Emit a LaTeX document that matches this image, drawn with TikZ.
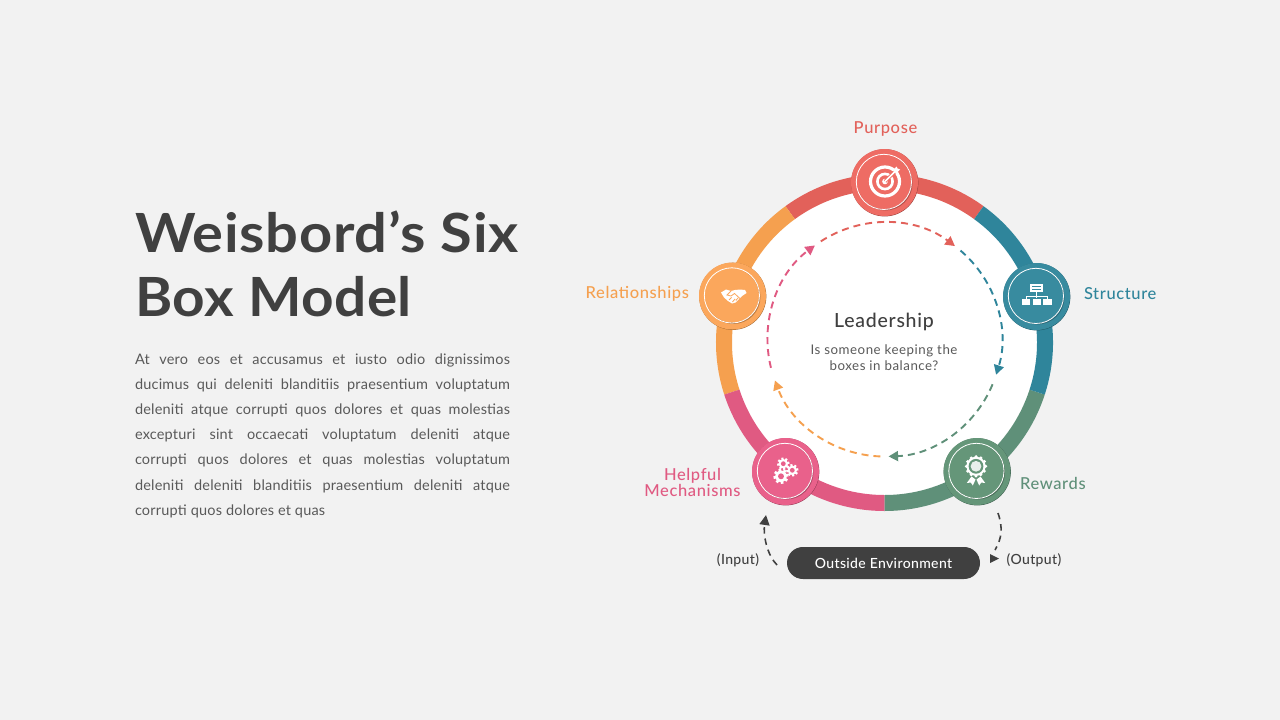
\documentclass[tikz,border=0pt]{standalone}
\usepackage{fontspec}
\setmainfont{Lato}
\newfontfamily\titlefonta[LetterSpace=1.3,FakeStretch=1.07]{Lato}
\newfontfamily\titlefontb[LetterSpace=0.9,FakeStretch=1.05]{Lato}
\newfontfamily\labelfont[LetterSpace=3.8]{Lato Medium}
\newfontfamily\pillfont[LetterSpace=2.6]{Lato Medium}
\newfontfamily\smallfont[LetterSpace=4]{Lato}
\newfontfamily\parafont[LetterSpace=1.4]{Lato}
\usetikzlibrary{arrows.meta}
\definecolor{bgc}{HTML}{F2F2F2}
\definecolor{darktxt}{HTML}{404040}
\definecolor{bodytxt}{HTML}{595959}
\definecolor{redc}{HTML}{E2615A}
\definecolor{redb}{HTML}{EE6C64}
\definecolor{tealc}{HTML}{2F859B}
\definecolor{tealb}{HTML}{388B9F}
\definecolor{greenc}{HTML}{5F9079}
\definecolor{greenb}{HTML}{659679}
\definecolor{pinkc}{HTML}{E05A82}
\definecolor{pinkb}{HTML}{E9618B}
\definecolor{orangec}{HTML}{F5A04F}
\definecolor{orangeb}{HTML}{FBA75C}
\tikzset{
  txt/.style={inner sep=0pt,outer sep=0pt,font=\labelfont},
  lab/.style={txt,font=\labelfont\fontsize{16.5}{16.5}\selectfont},
  dasharc/.style={line width=1.9pt,dash pattern=on 7pt off 5pt,-{Triangle[length=9.5pt,width=10pt]}},
  badgeshape/.style={circle,minimum size=67pt,inner sep=0pt,outer sep=0pt},
  outerarrow/.style={darktxt,line width=1.6pt,dash pattern=on 6.5pt off 5pt},
}
\newcommand{\ringseg}[3]{%
  \fill[#1] ([shift={(#2:168.5pt)}]ringc) arc[start angle=#2,end angle=#3,radius=168.5pt]
    -- ([shift={(#3:152.5pt)}]ringc) arc[start angle=#3,end angle=#2,radius=152.5pt] -- cycle;}
\newcommand{\badge}[5]{% name x y ring-colour face-colour
  \fill[black!35!#4] (#2+0.25,#3+0.3) circle[radius=33.6pt];
  \node[badgeshape,fill=#5] (#1) at (#2,#3) {};
  \fill[black!25!#5] (#2+0.8,#3+0.8) circle[radius=27.2pt];
  \fill[#5] (#2-0.3,#3-0.3) circle[radius=26.8pt];
  \draw[white,line width=0.8pt] (#2-0.6,#3-0.6) circle[radius=27.6pt];}
\newcommand{\dasharcdraw}[3]{%
  \draw[dasharc,#1] ([shift={(#2:117pt)}]dashc) arc[start angle=#2,end angle=#3,radius=117pt];}
\newcommand{\gear}[4]{% x y r holecolour
  \fill[white] (#1,#2) circle[radius=#3*0.78pt];
  \foreach \a in {0,45,...,315}{
    \draw[white,line width=#3*0.36pt] (#1,#2) ++(\a+10:#3*0.6pt) -- ++(\a+10:#3*0.42pt);}
  \fill[#4] (#1,#2) circle[radius=#3*0.4pt];}
\begin{document}
\begin{tikzpicture}[x=1pt,y=-1pt]
\fill[bgc] (0,0) rectangle (1280,720);
\useasboundingbox (0,0) rectangle (1280,720);
% left text
\node[txt,anchor=base west] (title1) at (135,252.5) {\titlefonta\fontsize{54}{54}\selectfont\bfseries\color{darktxt}Weisbord’s Six};
\node[txt,anchor=base west] (title2) at (135,316) {\titlefontb\fontsize{54}{54}\selectfont\bfseries\color{darktxt}Box Model};
\node[txt,anchor=base west,text width=375pt,align=justify,text=bodytxt] (para) at (135,364)
 {\parafont\fontsize{14.5}{25.2}\selectfont At vero eos et accusamus et iusto odio dignissimos\linebreak
  ducimus qui deleniti blanditiis praesentium voluptatum\linebreak
  deleniti atque corrupti quos dolores et quas molestias\linebreak
  excepturi sint occaecati voluptatum deleniti atque\linebreak
  corrupti quos dolores et quas molestias voluptatum\linebreak
  deleniti deleniti blanditiis praesentium deleniti atque\linebreak
  corrupti quos dolores et quas\par};
% ring
\coordinate (ringc) at (884.5,342.5);
\coordinate (dashc) at (884.5,339.5);
\fill[white] (ringc) circle[radius=154pt];
\ringseg{redc}{54}{126}
\ringseg{orangec}{126}{198}
\ringseg{pinkc}{198}{270}
\ringseg{greenc}{270}{342}
\ringseg{tealc}{342}{414}
% dashed circle
\dasharcdraw{redc}{123}{53}
\dasharcdraw{tealc}{49.5}{-17.5}
\dasharcdraw{greenc}{-22.5}{-88}
\dasharcdraw{orangec}{-92}{-159.5}
\dasharcdraw{pinkc}{194}{126.5}
% badges
\badge{purpose}{884.5}{182.5}{redc}{redb}
\badge{structure}{1036.5}{296.5}{tealc}{tealb}
\badge{rewards}{977}{471.5}{greenc}{greenb}
\badge{helpful}{785.5}{471.5}{pinkc}{pinkb}
\badge{relations}{732.5}{296}{orangec}{orangeb}
% target icon
\draw[white,line width=3.2pt] (885,181.5) circle[radius=14.5pt];
\draw[white,line width=2.6pt] (885,181.5) circle[radius=7.6pt];
\fill[white] (885,181.5) circle[radius=2.8pt];
\draw[redb,line width=3.4pt] (885,181.5) -- (899,167.5);
\draw[white,line width=1.6pt] (885,181.5) -- (895,171.5);
\fill[white] (893,170) -- (896.5,166.5) -- (897.5,168.5) -- (900,169.5) -- (896.5,173) -- (894,172.5) -- cycle;
% org icon
\fill[white] (1030,284) rectangle (1042.5,291.5);
\draw[tealb,line width=0.8pt] (1032,286.5) -- (1040.5,286.5) (1032,289) -- (1040.5,289);
\draw[white,line width=1pt] (1036.2,291) -- (1036.2,297.5) (1026.5,299) -- (1026.5,296.5) -- (1047.5,296.5) -- (1047.5,299);
\fill[white] (1022,298.7) rectangle (1030.3,304.7);
\fill[white] (1032.7,298.7) rectangle (1041,304.7);
\fill[white] (1043.3,298.7) rectangle (1052,304.7);
% rosette icon
\fill[white] (976,466.3) circle[radius=9.6pt];
\foreach \a in {0,30,...,330}{\fill[white] (976,466.3) ++(\a:9.6pt) circle[radius=1.7pt];}
\fill[greenb] (976,466.3) circle[radius=7.4pt];
\fill[white!85!greenb] (976,466.3) circle[radius=5.4pt];
\fill[white] (971.5,476.5) -- (975.5,479.5) -- (972.8,485.5) -- (970.8,482.5) -- (966.8,483) -- cycle;
\fill[white] (980.5,476.5) -- (976.5,479.5) -- (979.2,485.5) -- (981.2,482.5) -- (985.2,483) -- cycle;
% gears icon
\gear{783.3}{463.7}{6}{pinkb}
\gear{792.3}{470.3}{6}{pinkb}
\gear{781}{476.3}{7.4}{pinkb}
% handshake icon
\fill[white] (721,292.5) -- (726,289.5) -- (731,291) -- (735,290) -- (740,289.5) -- (745,290) -- (746.5,293) -- (742,296) -- (739,299) -- (735.5,302.5) -- (732,303.5) -- (728,301) -- (724,297.5) -- cycle;
\draw[orangeb,line width=0.8pt] (731,291) -- (727,295) -- (731,296) -- (734.5,293.5) -- (740,298.5)
  (729,300) -- (731.5,297.5) (732.5,302) -- (735,299) (735.8,300.5) -- (738,298);
% labels
\node[lab,text=redc,anchor=center] (lpurpose) at (885.5,128.6) {Purpose};
\node[lab,text=orangec,anchor=east] (lrelations) at (689,293.6) {Relationships};
\node[lab,text=tealc,anchor=west] (lstructure) at (1084,293.2) {Structure};
\node[lab,text=greenc,anchor=west] (lrewards) at (1020,483.8) {Rewards};
\node[lab,text=pinkc,align=center,font=\labelfont\fontsize{16.5}{14.5}\selectfont] (lhelpful) at (692.5,482.8) {Helpful\\Mechanisms\par};
\node[txt,text=darktxt] (lead) at (884,321.5) {\fontsize{19.5}{19.5}\selectfont Leadership};
\node[txt,text=bodytxt,align=center,font=\smallfont\fontsize{13.3}{16}\selectfont] (leadsub) at (884,357.5) {Is someone keeping the\\boxes in balance?\par};
% outside environment
\node[fill=darktxt,rounded corners=15.9pt,minimum width=193pt,minimum height=32pt,inner sep=0pt,text=white,font=\pillfont\fontsize{14}{14}\selectfont] (outside) at (883.5,563) {Outside Environment};
\node[txt,text=darktxt,anchor=center,font=\pillfont\fontsize{14}{14}\selectfont] (input) at (738,560) {(Input)};
\node[txt,text=darktxt,anchor=center,font=\pillfont\fontsize{14}{14}\selectfont] (output) at (1034,560) {(Output)};
\coordinate (inA) at (777,565);
\coordinate (inB) at (766,515);
\coordinate (outA) at (998,513);
\coordinate (outB) at (995,550);
\draw[outerarrow,-{Triangle[length=10pt,width=10pt]}] (inA) .. controls (767,555) and (763,535) .. (inB);
\draw[outerarrow] (outA) .. controls (1003,528) and (1002,538) .. (outB);
\fill[darktxt] (990,554) -- (999,558.5) -- (990,563) -- cycle;
\end{tikzpicture}
\end{document}
